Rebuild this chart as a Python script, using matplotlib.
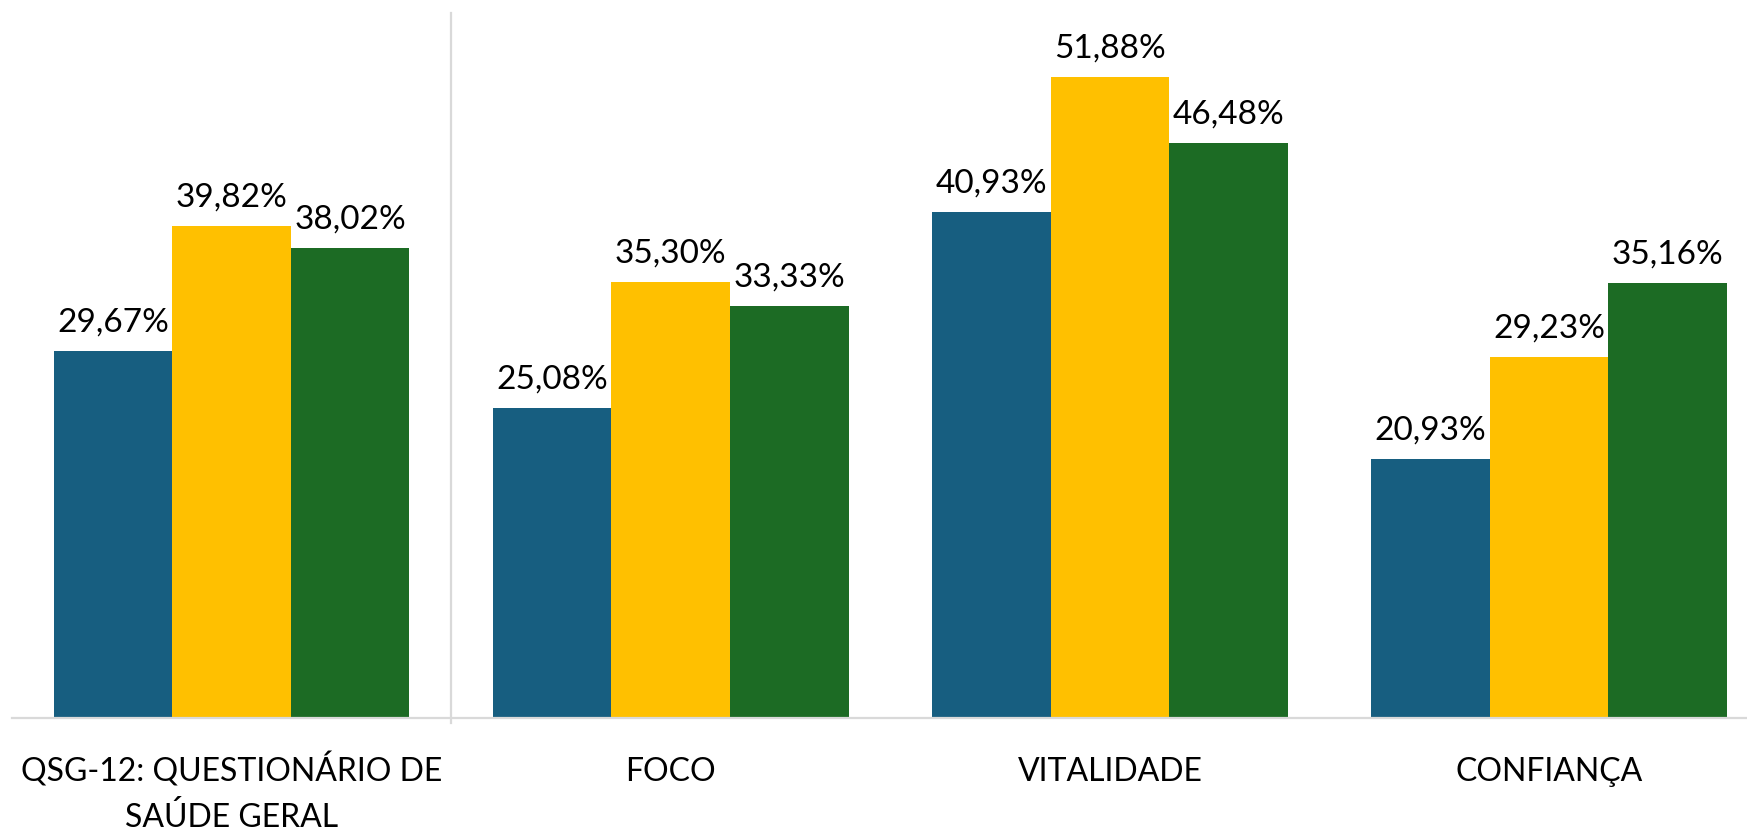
import numpy as np
import matplotlib.pyplot as plt

categorias = ["QSG-12: QUESTIONÁRIO DE\nSAÚDE GERAL", "FOCO", "VITALIDADE", "CONFIANÇA"]
serie_1 = [29.67, 25.08, 40.93, 20.93]
serie_2 = [39.82, 35.30, 51.88, 29.23]
serie_3 = [38.02, 33.33, 46.48, 35.16]
cores = ["#175E80", "#FFC000", "#1C6B24"]

plt.rcParams['font.family'] = ['Lato', 'DejaVu Sans']

fig = plt.figure(figsize=(17.47, 8.32), dpi=100)
ax = fig.add_axes([12/1747, 1 - 718.3/832, 1 - 12/1747, 718.3/832])

x = np.arange(len(categorias))
largura = 0.27
for k, serie in enumerate([serie_1, serie_2, serie_3]):
    pos = x + (k - 1) * largura
    ax.bar(pos, serie, width=largura, color=cores[k], zorder=2)
    for xi, v in zip(pos, serie):
        ax.annotate(f"{v:.2f}%".replace(".", ","), (xi, v), xytext=(0, 14),
                    textcoords="offset points", ha="center", va="baseline",
                    fontsize=24, color="#000000")

# rotulos das categorias, uma linha de cada vez
for i, nome in enumerate(categorias):
    for j, linha in enumerate(nome.split("\n")):
        ax.annotate(linha, (i, 0), xycoords=("data", "axes fraction"),
                    xytext=(0, -45.4 - 33.1 * j), textcoords="offset points",
                    ha="center", va="baseline", fontsize=23,
                    annotation_clip=False)

# linha separadora
ax.plot([0.5, 0.5], [-0.4, 57.0], color="#d9d9d9", lw=1.6, clip_on=False, zorder=1)

ax.set_xlim(-0.5, 3 + (1747 - 1549) / 439.2)
ax.set_ylim(0, 718.3 / 12.37)
ax.set_xticks([])
ax.set_yticks([])
for s in ["top", "right", "left"]:
    ax.spines[s].set_visible(False)
ax.spines["bottom"].set_color("#d9d9d9")
ax.spines["bottom"].set_linewidth(1.6)

fig.savefig("out.png", dpi=100)
